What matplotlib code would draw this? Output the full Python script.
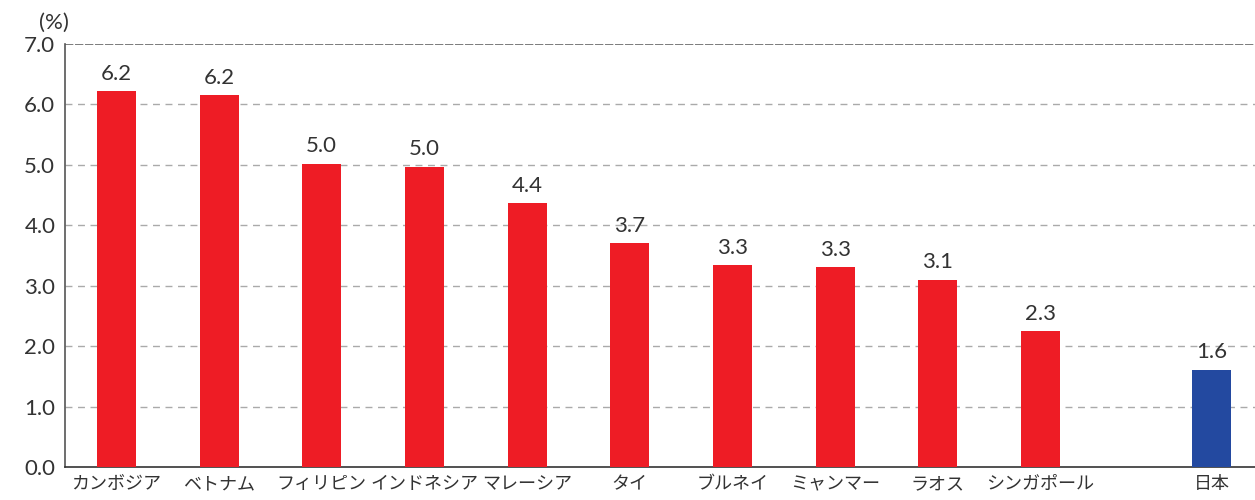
import numpy as np
import matplotlib
matplotlib.use("Agg")
import matplotlib.pyplot as plt

plt.rcParams['font.family'] = ['Noto Sans CJK JP', 'DejaVu Sans']

# data
countries = ['カンボジア', 'ベトナム', 'フィリピン', 'インドネシア', 'マレーシア',
             'タイ', 'ブルネイ', 'ミャンマー', 'ラオス', 'シンガポール', '日本']
values = [6.22, 6.16, 5.02, 4.97, 4.37, 3.71, 3.34, 3.31, 3.10, 2.25, 1.61]
labels = ['6.2', '6.2', '5.0', '5.0', '4.4', '3.7', '3.3', '3.3', '3.1', '2.3', '1.6']
yticks = [0, 1, 2, 3, 4, 5, 6, 7]

red = '#ee1c25'
blue = '#2349a0'
txt = '#333333'
numfont = dict(family=['Lato', 'DejaVu Sans'], weight='normal')

# ASEAN bars evenly spaced, Japan set apart after a gap
x = np.arange(len(countries), dtype=float)
x[-1] += 0.67
colors = [red] * (len(countries) - 1) + [blue]

fig = plt.figure(figsize=(12.55, 5), dpi=100)
ax = fig.add_axes([0.0518, 0.066, 0.9482, 0.846])

ax.bar(x, values, width=0.38, color=colors, zorder=3)
for xi, v, lab in zip(x, values, labels):
    ax.text(xi, v + 0.12, lab, ha='center', va='bottom', fontsize=16,
            color=txt, **numfont)

ax.set_xlim(-0.5, 11.09)
ax.set_ylim(0, 7)
ax.set_yticks(yticks)
ax.set_yticklabels([f'{t:.1f}' for t in yticks], fontsize=16, color=txt,
                   **numfont)
ax.set_xticks(x)
ax.set_xticklabels(countries, fontsize=13, color=txt)
ax.tick_params(axis='y', length=0, pad=7)
ax.tick_params(axis='x', length=0, pad=6)

for t in yticks[1:-1]:
    ax.axhline(t, color='#aaaaaa', lw=1, ls=(0, (5, 4)), zorder=1)
ax.axhline(7, color='#666666', lw=1.2, ls=(0, (5, 1)), zorder=1)

for s in ['top', 'right']:
    ax.spines[s].set_visible(False)
ax.spines['left'].set_color('#555555')
ax.spines['left'].set_linewidth(1.2)
ax.spines['bottom'].set_color('#333333')
ax.spines['bottom'].set_linewidth(1.2)

fig.text(0.031, 0.935, '(%)', fontsize=16, color=txt, ha='left', va='bottom',
         **numfont)

fig.savefig('out.png', dpi=100)
